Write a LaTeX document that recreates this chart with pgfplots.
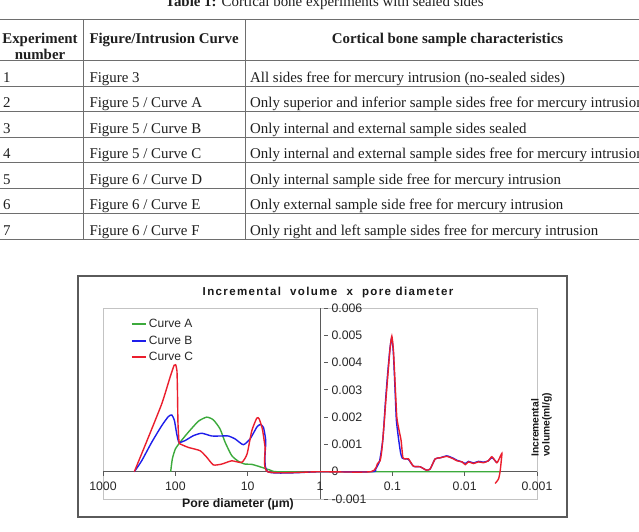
\documentclass[border=0pt]{standalone}
\usepackage{fontspec}
\setmainfont{Liberation Serif}
\newfontfamily\arial{Liberation Sans}
\usepackage{pgfplots}
\pgfplotsset{compat=1.18}
\definecolor{curvegreen}{RGB}{60,170,60}
\definecolor{curveblue}{RGB}{30,30,235}
\definecolor{curvered}{RGB}{235,30,45}
\definecolor{axisgray}{RGB}{90,90,90}
\definecolor{framegray}{RGB}{195,195,195}
\definecolor{labelgray}{RGB}{40,40,40}
\definecolor{tablegray}{RGB}{110,110,110}
\begin{document}
\begin{tikzpicture}
\useasboundingbox (0pt,0pt) rectangle (639pt,532pt);
\fill[white] (0pt,0pt) rectangle (639pt,532pt);
\clip (0pt,0pt) rectangle (639pt,532pt);
% ---------- table ----------
\begin{scope}[every node/.style={inner sep=0pt, text=black!88, font=\fontsize{14.9}{17}\selectfont}]
\node[anchor=base] at (324.5pt,525pt) {\textbf{Table 1:} Cortical bone experiments with sealed sides};
\foreach \yy in {512.7,472,446,420.3,395,369.5,344,318.5,293}
  \draw[tablegray, line width=0.8pt] (0pt,\yy pt) -- (660pt,\yy pt);
\draw[tablegray, line width=0.8pt] (83.3pt,512.7pt) -- (83.3pt,293pt);
\draw[tablegray, line width=0.8pt] (245pt,512.7pt) -- (245pt,293pt);
\node[anchor=base] at (40pt,488pt) {\textbf{Experiment}};
\node[anchor=base] at (40pt,472pt) {\textbf{number}};
\node[anchor=base west] at (89.3pt,488pt) {\textbf{Figure/Intrusion Curve}};
\node[anchor=base] at (447.5pt,488pt) {\textbf{Cortical bone sample characteristics}};
\node[anchor=base west] at (3pt,449.5pt) {1};
\node[anchor=base west] at (89.3pt,449.5pt) {Figure 3};
\node[anchor=base west] at (250pt,449.5pt) {All sides free for mercury intrusion (no-sealed sides)};
\node[anchor=base west] at (3pt,424pt) {2};
\node[anchor=base west] at (89.3pt,424pt) {Figure 5 / Curve A};
\node[anchor=base west] at (250pt,424pt) {Only superior and inferior sample sides free for mercury intrusion};
\node[anchor=base west] at (3pt,398.5pt) {3};
\node[anchor=base west] at (89.3pt,398.5pt) {Figure 5 / Curve B};
\node[anchor=base west] at (250pt,398.5pt) {Only internal and external sample sides sealed};
\node[anchor=base west] at (3pt,373pt) {4};
\node[anchor=base west] at (89.3pt,373pt) {Figure 5 / Curve C};
\node[anchor=base west] at (250pt,373pt) {Only internal and external sample sides free for mercury intrusion};
\node[anchor=base west] at (3pt,347.5pt) {5};
\node[anchor=base west] at (89.3pt,347.5pt) {Figure 6 / Curve D};
\node[anchor=base west] at (250pt,347.5pt) {Only internal sample side free for mercury intrusion};
\node[anchor=base west] at (3pt,322pt) {6};
\node[anchor=base west] at (89.3pt,322pt) {Figure 6 / Curve E};
\node[anchor=base west] at (250pt,322pt) {Only external sample side free for mercury intrusion};
\node[anchor=base west] at (3pt,296.5pt) {7};
\node[anchor=base west] at (89.3pt,296.5pt) {Figure 6 / Curve F};
\node[anchor=base west] at (250pt,296.5pt) {Only right and left sample sides free for mercury intrusion};
\end{scope}
% ---------- chart ----------
\draw[axisgray, line width=1.2pt] (78pt,15pt) rectangle (567pt,256pt);
\draw[framegray, line width=0.8pt] (103pt,33pt) rectangle (537pt,224pt);
\node[font=\arial\bfseries\fontsize{11.5}{13}\selectfont\addfontfeature{LetterSpace=12}, text=black!90, inner sep=0pt] at (328pt,239pt) {Incremental\ \ volume\ \ x\ \ pore\ diameter};
\begin{axis}[
  at={(103pt,33pt)}, anchor=south west,
  scale only axis, width=434pt, height=191pt,
  xmode=log, x dir=reverse,
  xmin=0.001, xmax=1000, ymin=-0.001, ymax=0.006,
  axis x line=middle, axis y line=middle,
  axis line style={-, draw=axisgray, line width=0.8pt},
  inner axis line style={-},
  xtick={0.001,0.01,0.1,1,10,100,1000},
  xticklabels={0.001,0.01,0.1,1,10,100,1000},
  xminorticks=false,
  ytick={-0.001,0,0.001,0.002,0.003,0.004,0.005,0.006},
  yticklabels={-0.001,0,0.001,0.002,0.003,0.004,0.005,0.006},
  scaled y ticks=false,
  hide obscured x ticks=false, hide obscured y ticks=false,
  tick style={draw=axisgray, line width=0.8pt},
  major tick length=4pt,
  tick align=outside,
  y tick style={xshift=4pt},
  ticklabel style={font=\arial\fontsize{12.3}{14}\selectfont, text=labelgray},
  xticklabel style={anchor=north, yshift=-3pt},
  yticklabel style={anchor=west, xshift=12pt},
  legend style={at={(rel axis cs:0.064,0.955)}, anchor=north west, draw=none, fill=none,
    font=\arial\fontsize{12}{14}\selectfont, inner sep=0pt, row sep=3pt,
    cells={anchor=west}},
  legend image code/.code={\draw[line width=2pt, #1] (0pt,0pt) -- (14pt,0pt);},
]
\addplot[draw=curvegreen, line width=1.4pt, smooth, tension=0.35] coordinates {
(116,0) (110,0.00047) (100,0.00083) (86,0.00108) (66,0.00145) (48,0.00185) (36.8,0.0020) (29.8,0.0019) (24.1,0.00157) (20.5,0.00108) (16.6,0.00059) (13.4,0.00038) (10.9,0.00028) (8.77,0.00027) (6.38,0.00016) (4.9,0.00006) (3.98,0) (1,0) (0.1,0) (0.01,0) (0.0032,0)
};
\addlegendentry{\textcolor{labelgray}{Curve A}}
\addplot[draw=curveblue, line width=1.4pt, smooth, tension=0.35] coordinates {
(369,0) (292,0.0004) (212,0.00108) (154,0.00169) (125,0.00202) (112,0.00208) (103,0.00188) (95.7,0.00139) (89,0.00108) (73.5,0.00114) (56.4,0.00132) (43.2,0.00141) (31.4,0.00131) (22.8,0.00131) (18.5,0.00131) (14.9,0.0012) (11.5,0.00099) (9.27,0.0012) (7.49,0.00163) (6.73,0.00173) (6.06,0.00163) (5.62,0.00114) (5.27,0) (1,0) (0.19,0) (0.17,0.0001) (0.15,0.0004) (0.135,0.0012) (0.125,0.0025) (0.116,0.0036) (0.108,0.0045) (0.102,0.0049) (0.097,0.0044) (0.092,0.0031) (0.088,0.0019) (0.082,0.0012) (0.077,0.0007) (0.073,0.0005) (0.0665,0.00047) (0.0598,0.00045) (0.051,0.0002) (0.0412,0.00018) (0.034,0.00006) (0.030,0.0001) (0.0256,0.00047) (0.0218,0.00051) (0.0176,0.00058) (0.0143,0.00049) (0.0128,0.00042) (0.0109,0.00036) (0.0098,0.0003) (0.00885,0.00038) (0.00755,0.00032) (0.00644,0.00038) (0.0055,0.00035) (0.0047,0.0004) (0.0042,0.00052) (0.0036,0.00033)
};
\addlegendentry{\textcolor{labelgray}{Curve B}}
\addplot[draw=curvered, line width=1.4pt, smooth, tension=0.35] coordinates {
(369,0) (236,0.00126) (154,0.00249) (118,0.00347) (104,0.0039) (99,0.00392) (95,0.0037) (93.5,0.003) (92,0.0018) (89,0.0011) (86,0.00102) (66,0.00089) (45.5,0.00077) (36.8,0.00053) (29.8,0.00025) (22.8,0.00028) (16.6,0.0004) (12.1,0.00034) (10.2,0.00065) (8.77,0.0015) (7.49,0.00196) (6.95,0.00194) (6.27,0.00157) (5.74,0.00089) (5.3,0) (1,0) (0.198,0) (0.16,0.0003) (0.1476,0.0004) (0.14,0.00077) (0.13,0.00175) (0.122,0.00273) (0.113,0.00383) (0.107,0.00457) (0.1016,0.00497) (0.0966,0.00445) (0.0915,0.00322) (0.0867,0.0020) (0.0805,0.0015) (0.0756,0.00114) (0.0716,0.00053) (0.0665,0.00047) (0.0598,0.00047) (0.051,0.0002) (0.0412,0.00018) (0.034,0.00006) (0.030,0.0001) (0.0256,0.00047) (0.0218,0.00051) (0.0176,0.00056) (0.0143,0.00047) (0.0128,0.0004) (0.0109,0.00036) (0.0098,0.00026) (0.00885,0.00036) (0.00755,0.0003) (0.00644,0.00036) (0.0055,0.00033) (0.0047,0.0004) (0.0042,0.00055) (0.00359,0.00033) (0.0033,0.0005) (0.00306,0.00067) (0.0031,0.00047) (0.00324,0) (0.00341,-0.00027) (0.00379,-0.00043)
};
\addlegendentry{\textcolor{labelgray}{Curve C}}
\end{axis}
\node[font=\arial\bfseries\fontsize{12.3}{14}\selectfont, text=black!90, anchor=base, inner sep=0pt] at (238pt,24pt) {Pore diameter (µm)};
\node[rotate=90, anchor=west, align=left, inner sep=0pt, font=\arial\bfseries\fontsize{10.3}{11}\selectfont, text=black!90] at (541.5pt,75pt) {Incremental\\volume(ml/g)};
\end{tikzpicture}
\end{document}
